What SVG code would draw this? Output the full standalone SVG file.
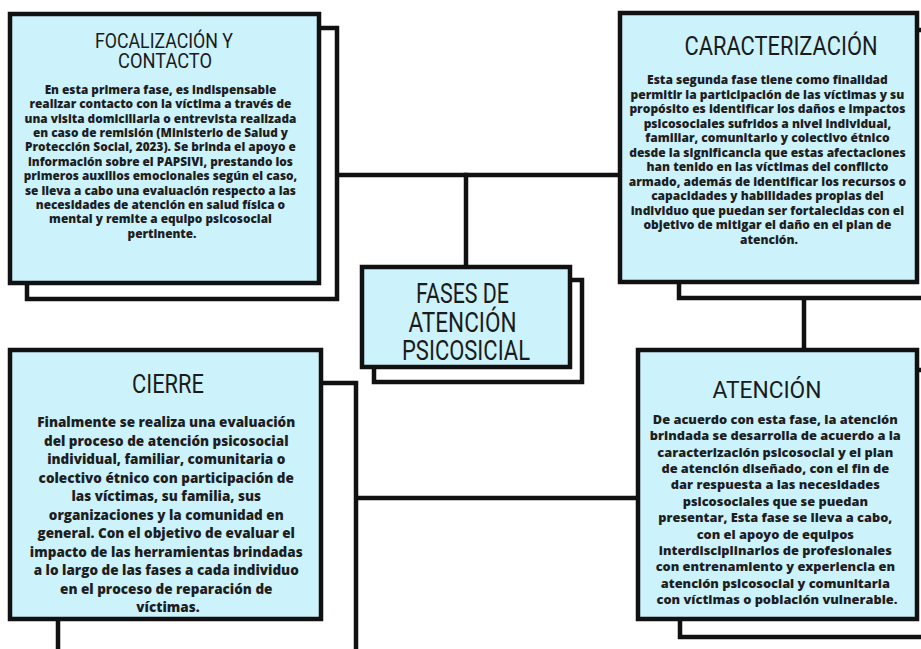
<svg xmlns="http://www.w3.org/2000/svg" width="921" height="649" viewBox="0 0 921 649">
<style>
.bg{fill:#ffffff}
.box{fill:#ccf2fc;stroke:#111;stroke-width:4.5}
.sh{fill:#ffffff;stroke:#111;stroke-width:4.5}
.con{fill:none;stroke:#111;stroke-width:4.5;stroke-linecap:square}
.t{font-family:Roboto,"Liberation Sans",sans-serif;font-weight:400;fill:#1b1b1b;text-anchor:middle}
.b{font-family:"Open Sans","Liberation Sans",sans-serif;font-weight:800;fill:#1e1e1e;text-anchor:middle}
</style>
<rect class="bg" x="0" y="0" width="921" height="649"/>
<g id="connectors">
<path class="con" d="M337 175 H619"/>
<path class="con" d="M466 175 V266"/>
<path class="con" d="M804 298 V349"/>
<path class="con" d="M356 498 H637"/>
</g>
<g id="focalizacion">
<rect class="sh" x="27" y="28" width="310" height="271"/>
<rect class="box" x="10" y="14" width="309" height="269"/>
<text class="t" font-size="21"><tspan x="164" y="48" textLength="138" lengthAdjust="spacingAndGlyphs">FOCALIZACIÓN Y</tspan><tspan x="165" y="68" textLength="94" lengthAdjust="spacingAndGlyphs">CONTACTO</tspan></text>
<text class="b" font-size="11.8">
<tspan x="162" y="94">En esta primera fase, es indispensable</tspan>
<tspan x="162" y="108.4">realizar contacto con la víctima a través de</tspan>
<tspan x="162" y="122.7">una visita domiciliaria o entrevista realizada</tspan>
<tspan x="162" y="137.1">en caso de remisión (Ministerio de Salud y</tspan>
<tspan x="162" y="151.4">Protección Social, 2023). Se brinda el apoyo e</tspan>
<tspan x="162" y="165.8">información sobre el PAPSIVI, prestando los</tspan>
<tspan x="162" y="180.1">primeros auxilios emocionales según el caso,</tspan>
<tspan x="162" y="194.5">se lleva a cabo una evaluación respecto a las</tspan>
<tspan x="162" y="208.8">necesidades de atención en salud física o</tspan>
<tspan x="162" y="223.2">mental y remite a equipo psicosocial</tspan>
<tspan x="162" y="237.5">pertinente.</tspan>
</text>
</g>
<g id="caracterizacion">
<rect class="sh" x="679" y="30" width="280" height="268"/>
<rect class="box" x="620" y="13" width="297" height="269"/>
<text class="t" font-size="25"><tspan x="781" y="55" textLength="193" lengthAdjust="spacingAndGlyphs">CARACTERIZACIÓN</tspan></text>
<text class="b" font-size="12">
<tspan x="769" y="84">Esta segunda fase tiene como finalidad</tspan>
<tspan x="769" y="98.5">permitir la participación de las víctimas y su</tspan>
<tspan x="769" y="113">propósito es identificar los daños e impactos</tspan>
<tspan x="769" y="127.5">psicosociales sufridos a nivel individual,</tspan>
<tspan x="769" y="142">familiar, comunitario y colectivo étnico</tspan>
<tspan x="769" y="156.5">desde la significancia que estas afectaciones</tspan>
<tspan x="769" y="171">han tenido en las víctimas del conflicto</tspan>
<tspan x="769" y="185.5">armado, además de identificar los recursos o</tspan>
<tspan x="769" y="200">capacidades y habilidades propias del</tspan>
<tspan x="769" y="214.5">individuo que puedan ser fortalecidas con el</tspan>
<tspan x="769" y="229">objetivo de mitigar el daño en el plan de</tspan>
<tspan x="769" y="243.5">atención.</tspan>
</text>
</g>
<g id="fases">
<rect class="sh" x="374" y="280" width="208" height="102"/>
<rect class="box" x="362" y="267" width="208" height="100"/>
<text class="t" font-size="28">
<tspan x="466" y="303" textLength="93" lengthAdjust="spacingAndGlyphs">FASES DE</tspan>
<tspan x="466" y="332" textLength="108" lengthAdjust="spacingAndGlyphs">ATENCIÓN</tspan>
<tspan x="466" y="360" textLength="128" lengthAdjust="spacingAndGlyphs">PSICOSICIAL</tspan>
</text>
</g>
<g id="cierre">
<rect class="sh" x="58" y="383" width="298" height="300"/>
<rect class="box" x="10" y="350" width="311" height="269"/>
<text class="t" font-size="26"><tspan x="168" y="393" textLength="72" lengthAdjust="spacingAndGlyphs">CIERRE</tspan></text>
<text class="b" font-size="13.5">
<tspan x="168" y="427">Finalmente se realiza una evaluación</tspan>
<tspan x="168" y="445.5">del proceso de atención psicosocial</tspan>
<tspan x="168" y="464">individual, familiar, comunitaria o</tspan>
<tspan x="168" y="482.5">colectivo étnico con participación de</tspan>
<tspan x="168" y="501">las víctimas, su familia, sus</tspan>
<tspan x="168" y="519.5">organizaciones y la comunidad en</tspan>
<tspan x="168" y="538">general. Con el objetivo de evaluar el</tspan>
<tspan x="168" y="556.5">impacto de las herramientas brindadas</tspan>
<tspan x="168" y="575">a lo largo de las fases a cada individuo</tspan>
<tspan x="168" y="593.5">en el proceso de reparación de</tspan>
<tspan x="168" y="612">víctimas.</tspan>
</text>
</g>
<g id="atencion">
<rect class="sh" x="680" y="370" width="280" height="267"/>
<rect class="box" x="638" y="350" width="279" height="269"/>
<text class="t" font-size="23"><tspan x="767" y="398" textLength="109" lengthAdjust="spacingAndGlyphs">ATENCIÓN</tspan></text>
<text class="b" font-size="12.8">
<tspan x="777" y="424">De acuerdo con esta fase, la atención</tspan>
<tspan x="777" y="440.4">brindada se desarrolla de acuerdo a la</tspan>
<tspan x="777" y="456.7">caracterización psicosocial y el plan</tspan>
<tspan x="777" y="473.1">de atención diseñado, con el fin de</tspan>
<tspan x="777" y="489.4">dar respuesta a las necesidades</tspan>
<tspan x="777" y="505.8">psicosociales que se puedan</tspan>
<tspan x="777" y="522.2">presentar, Esta fase se lleva a cabo,</tspan>
<tspan x="777" y="538.5">con el apoyo de equipos</tspan>
<tspan x="777" y="554.9">interdisciplinarios de profesionales</tspan>
<tspan x="777" y="571.2">con entrenamiento y experiencia en</tspan>
<tspan x="777" y="587.6">atención psicosocial y comunitaria</tspan>
<tspan x="777" y="604">con víctimas o población vulnerable.</tspan>
</text>
</g>
</svg>
